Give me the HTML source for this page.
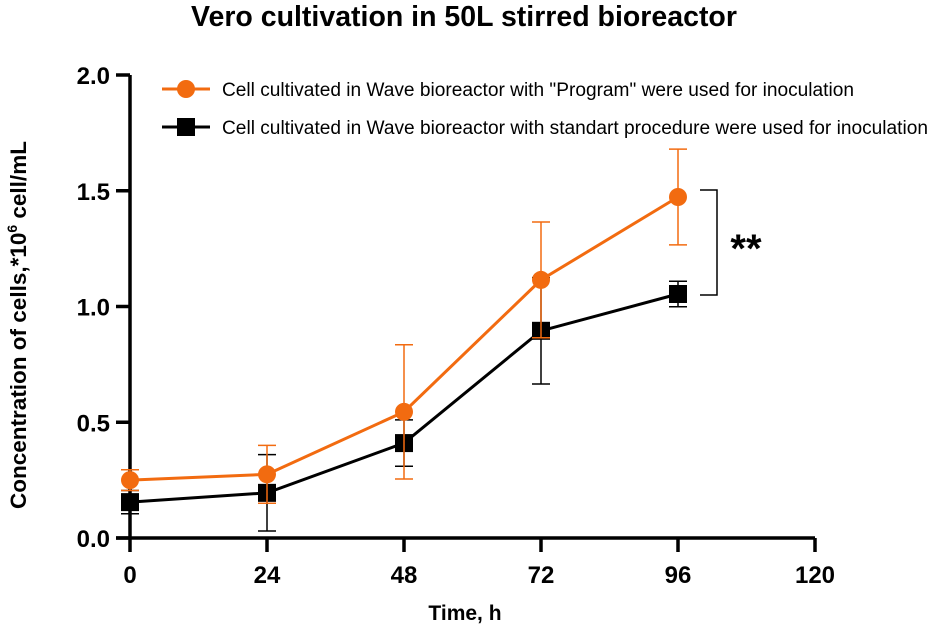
<!DOCTYPE html>
<html><head><meta charset="utf-8"><style>
body{margin:0;background:#fff;}
text{font-family:"Liberation Sans",Arial,sans-serif;}
</style></head><body>
<svg width="929" height="632" xmlns="http://www.w3.org/2000/svg">
<text x="464" y="26" text-anchor="middle" font-size="28.5" font-weight="bold">Vero cultivation in 50L stirred bioreactor</text>
<g id="axes"></g>
<g id="series"></g>
<text x="465" y="620" text-anchor="middle" font-size="21" font-weight="bold">Time, h</text>
<text transform="translate(26,325) rotate(-90)" text-anchor="middle" font-size="22.5" font-weight="bold">Concentration of cells,*10<tspan dy="-9" font-size="14">6</tspan><tspan dy="9"> cell/mL</tspan></text>
<g>
<g>
<line x1="162" y1="89" x2="210" y2="89" stroke="#f26b10" stroke-width="3"/>
<circle cx="186" cy="89" r="9" fill="#f26b10"/>
<text x="222" y="96" font-size="19" textLength="632" lengthAdjust="spacingAndGlyphs">Cell cultivated in Wave bioreactor with "Program" were used for inoculation</text>
</g>
<g>
<line x1="162" y1="127" x2="210" y2="127" stroke="#000" stroke-width="3"/>
<rect x="177" y="118" width="18" height="18" fill="#000"/>
<text x="222" y="134" font-size="19" textLength="706" lengthAdjust="spacingAndGlyphs">Cell cultivated in Wave bioreactor with standart procedure were used for inoculation</text>
</g>
</g>
<g>
<polyline points="700,190 717,190 717,295 700,295" fill="none" stroke="#000" stroke-width="1.5"/>
<text x="746" y="262" text-anchor="middle" font-size="40" font-weight="bold">**</text>
</g>
</svg>
<script>
const times=[0,24,48,72,96];
const programMean=[0.25,0.275,0.545,1.115,1.473];
const programErr=[0.045,0.125,0.29,0.25,0.207];
const standardMean=[0.155,0.195,0.41,0.895,1.054];
const standardErr=[0.05,0.165,0.1,0.23,0.055];
const xTicks=[0,24,48,72,96,120];
const yTicks=[0,0.5,1.0,1.5,2.0];
const NS="http://www.w3.org/2000/svg";
const X=v=>130+v*(685/120);
const Y=v=>538-v*231.5;
function mk(t,a,p){const e=document.createElementNS(NS,t);for(const k in a)e.setAttribute(k,a[k]);p.appendChild(e);return e;}
const ax=document.getElementById('axes');
const yl=mk('line',{x1:130,y1:Y(2),x2:130,y2:538,stroke:'#000','stroke-width':3.5},ax);


const xl=mk('line',{x1:116,y1:538,x2:X(120),y2:538,stroke:'#000','stroke-width':3.5},ax);


yTicks.forEach(v=>{
 mk('line',{x1:116,y1:Y(v),x2:130,y2:Y(v),stroke:'#000','stroke-width':3.5},ax);
 const t=mk('text',{x:110,y:Y(v)+9,'text-anchor':'end','font-size':24,'font-weight':'bold'},ax);
 t.textContent=v.toFixed(1);
 
 
});
xTicks.forEach(v=>{
 mk('line',{x1:X(v),y1:538,x2:X(v),y2:552,stroke:'#000','stroke-width':3.5},ax);
 const t=mk('text',{x:X(v),y:583,'text-anchor':'middle','font-size':24,'font-weight':'bold'},ax);
 t.textContent=v;
 
 
});
const sg=document.getElementById('series');
function series(mean,err,color,shape,name){
 const g=mk('g',{},sg);
 
 
 mean.forEach((m,i)=>{
  const x=X(times[i]);
  mk('line',{x1:x,y1:Y(m+err[i]),x2:x,y2:Y(m-err[i]),stroke:color,'stroke-width':1.5},g);
  mk('line',{x1:x-9,y1:Y(m+err[i]),x2:x+9,y2:Y(m+err[i]),stroke:color,'stroke-width':1.5},g);
  mk('line',{x1:x-9,y1:Y(m-err[i]),x2:x+9,y2:Y(m-err[i]),stroke:color,'stroke-width':1.5},g);
 });
 mk('polyline',{points:mean.map((m,i)=>X(times[i])+','+Y(m)).join(' '),fill:'none',stroke:color,'stroke-width':3},g);
 mean.forEach((m,i)=>{
  const x=X(times[i]);let p;
  if(shape==='circle')p=mk('circle',{cx:x,cy:Y(m),r:9,fill:color},g);
  else p=mk('rect',{x:x-9,y:Y(m)-9,width:18,height:18,fill:color},g);
  
  
 });
}
series(standardMean,standardErr,'#000','square','series-standard');
series(programMean,programErr,'#f26b10','circle','series-program');
</script>
</body></html>
